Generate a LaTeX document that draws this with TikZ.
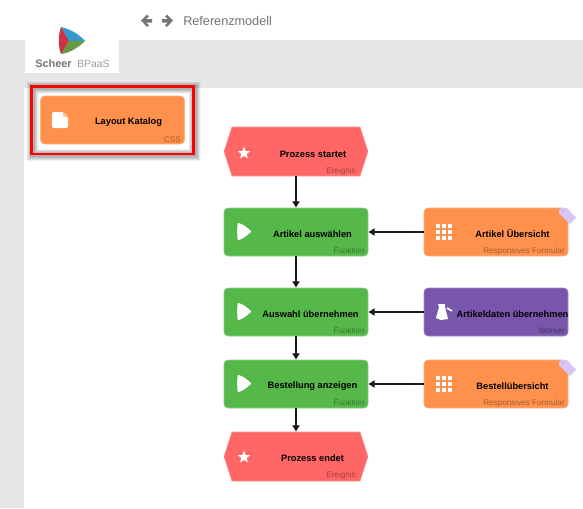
\documentclass[tikz,border=0pt]{standalone}
\usepackage{fontspec}
\setmainfont{Liberation Sans}
\usetikzlibrary{shapes.symbols,arrows.meta}
\definecolor{bandgray}{HTML}{E6E6E6}
\definecolor{cssorange}{HTML}{FF914D}
\definecolor{evtred}{HTML}{FF6666}
\definecolor{fngreen}{HTML}{57B84A}
\definecolor{wkpurple}{HTML}{7856AB}
\definecolor{taglilac}{HTML}{D6C6F7}
\definecolor{navgray}{HTML}{757575}
\definecolor{logoblue}{HTML}{3399CC}
\definecolor{logored}{HTML}{CC3344}
\definecolor{logogreen}{HTML}{669944}
\tikzset{
  boxbase/.style={inner sep=0pt,outer sep=0pt,minimum width=108pt,minimum height=36pt,rounded corners=3pt},
  cssbox/.style={boxbase,fill=cssorange,draw=cssorange!70!white,line width=.4pt},
  fnbox/.style={boxbase,fill=fngreen,draw=fngreen!70!white,line width=.4pt},
  formbox/.style={boxbase,fill=cssorange,draw=cssorange!70!white,line width=.4pt},
  wkbox/.style={boxbase,fill=wkpurple,draw=wkpurple!70!white,line width=.4pt},
  evthex/.style={signal,signal to=west and east,signal pointer angle=144,inner sep=0pt,outer sep=0pt,
    minimum width=108pt,minimum height=36.75pt,fill=evtred,draw=evtred!70!white,line width=.4pt},
  title/.style={font=\bfseries\fontsize{6.95pt}{8pt}\selectfont,text=black,inner sep=0pt},
  kind/.style={font=\fontsize{6.1pt}{7pt}\selectfont,inner sep=0pt,anchor=east},
  flow/.style={draw=black!90,line width=.9pt,-{Triangle[length=4.5pt,width=5.5pt]},shorten >=.5pt},
  icon/.style={fill=white,draw=none},
}
\begin{document}
\begin{tikzpicture}[x=.75pt,y=-.75pt]
\useasboundingbox (0,0) rectangle (583,508);
\fill[white] (0,0) rectangle (583,508);
\fill[bandgray] (0,40) rectangle (583,88);
\fill[bandgray] (0,88) rectangle (24,508);
\fill[white] (25,40) rectangle (119,73);
% logo
\fill[logoblue] (61,27) .. controls (70,29) and (79,34) .. (85,41) -- (69,41) -- cycle;
\fill[logogreen] (85,41) .. controls (79,47) and (70,53) .. (61,54) -- (69,41) -- cycle;
\fill[logored] (61,27) -- (69,41) -- (61,54) .. controls (58,46) and (58,36) .. (61,27) -- cycle;
\node[inner sep=0pt,font=\bfseries\fontsize{8.2pt}{9pt}\selectfont,text=navgray,anchor=west] (sch) at (35,63.5) {Scheer};
\node[inner sep=0pt,font=\fontsize{7.8pt}{9pt}\selectfont,text=black!38,anchor=west] (bp) at (77,63.5) {BPaaS};
% nav
\fill[navgray] (141,20.5) -- (147,14.5) -- (149,16.5) -- (146,19) -- (152,19) -- (152,22.5) -- (146,22.5) -- (149,25) -- (147,27) -- cycle;
\fill[navgray] (173,20.5) -- (167,14.5) -- (165,16.5) -- (168,19) -- (162,19) -- (162,22.5) -- (168,22.5) -- (165,25) -- (167,27) -- cycle;
\node[inner sep=0pt,font=\fontsize{9.5pt}{10pt}\selectfont,text=navgray,anchor=west] (ref) at (183,21) {Referenzmodell};
% selection shadow + frame
\foreach \g in {3,3.6,...,9.6}{
  \draw[black,opacity=.03,line width=\g pt] (32.5,87.5) rectangle (194.5,155);
}
\draw[red,line width=2.2pt] (31.5,86.5) rectangle (193.5,154);
% nodes
\node[cssbox] (css) at (112.5,120) {};
\node[evthex] (start) at (296,151.5) {};
\node[fnbox] (f1) at (296,232) {};
\node[fnbox] (f2) at (296,312) {};
\node[fnbox] (f3) at (296,384) {};
\node[evthex] (end) at (296,456.5) {};
\node[formbox] (r1) at (496,232) {};
\node[wkbox] (r2) at (496,312) {};
\node[formbox] (r3) at (496,384) {};
% connectors
\draw[flow] (start) -- (f1);
\draw[flow] (f1) -- (f2);
\draw[flow] (f2) -- (f3);
\draw[flow] (f3) -- (end);
\draw[flow] (r1) -- (f1);
\draw[flow] (r2) -- (f2);
\draw[flow] (r3) -- (f3);
% titles
\node[title] (t0) at (128.5,122) {Layout Katalog};
\node[title] (t1) at (313,154.5) {Prozess startet};
\node[title] (t2) at (312.5,234) {Artikel auswählen};
\node[title] (t3) at (310.5,314) {Auswahl übernehmen};
\node[title] (t4) at (312.5,386) {Bestellung anzeigen};
\node[title] (t5) at (312.5,458.5) {Prozess endet};
\node[title] (t6) at (512.5,234) {Artikel Übersicht};
\node[title] (t7) at (512.5,314) {Artikeldaten übernehmen};
\node[title] (t8) at (512.5,386) {Bestellübersicht};
% kinds
\node[kind,text=cssorange!65!black] (k0) at (181,139.5) {CSS};
\node[kind,text=evtred!65!black] (k1) at (356,171) {Ereignis};
\node[kind,text=fngreen!65!black] (k2) at (365,251) {Funktion};
\node[kind,text=fngreen!65!black] (k3) at (365,331) {Funktion};
\node[kind,text=fngreen!65!black] (k4) at (365,403) {Funktion};
\node[kind,text=evtred!65!black] (k5) at (356,475) {Ereignis};
\node[kind,text=cssorange!65!black] (k6) at (565,251) {Responsives Formular};
\node[kind,text=wkpurple!60!black] (k7) at (565,331) {Worker};
\node[kind,text=cssorange!65!black] (k8) at (565,403) {Responsives Formular};
% doc icon
\fill[icon,rounded corners=1pt] (52,112) -- (63,112) -- (68,117) -- (68,128) -- (52,128) -- cycle;
\fill[cssorange!55!white] (63,112) -- (68,117) -- (63,117) -- cycle;
% stars
\foreach \cx/\cy in {244/153,244/457}{
  \fill[icon] (\cx,\cy-6.5) -- (\cx+1.7,\cy-2) -- (\cx+6.3,\cy-2) -- (\cx+2.7,\cy+1) -- (\cx+4,\cy+5.5) -- (\cx,\cy+3) -- (\cx-4,\cy+5.5) -- (\cx-2.7,\cy+1) -- (\cx-6.3,\cy-2) -- (\cx-1.7,\cy-2) -- cycle;
}
% play icons
\foreach \cy in {231.5,311.5,383.5}{
  \filldraw[fill=white,draw=white,line width=1.4pt,line join=round] (238.5,\cy-7.5) .. controls (242,\cy-7) and (247,\cy-3) .. (250,\cy) .. controls (247,\cy+3) and (242,\cy+7) .. (238.5,\cy+7.5) .. controls (238,\cy+3) and (238,\cy-3) .. (238.5,\cy-7.5) -- cycle;
}
% grid icons
\foreach \cy in {232,384}{
  \foreach \i in {0,1,2}{\foreach \j in {0,1,2}{
    \fill[icon] (436+\i*5.9,\cy-8+\j*5.9) rectangle +(4.2,4.2);
  }}
}
% worker icon
\fill[icon] (438,304) -- (445,304) -- (445,307) -- (448,319) -- (441,320) -- (436,318) -- (439,307) -- cycle;
\draw[white,line width=1.2pt] (447,308) -- (452,311);
% tags
\foreach \cy in {232,384}{
  \fill[taglilac] (559,\cy-22) -- (561,\cy-24) -- (567,\cy-24) -- (576,\cy-14.5) -- (570,\cy-8) -- (559,\cy-19) -- cycle;
  \fill[evtred] (562.5,\cy-21) circle (.6);
}
\end{tikzpicture}
\end{document}
